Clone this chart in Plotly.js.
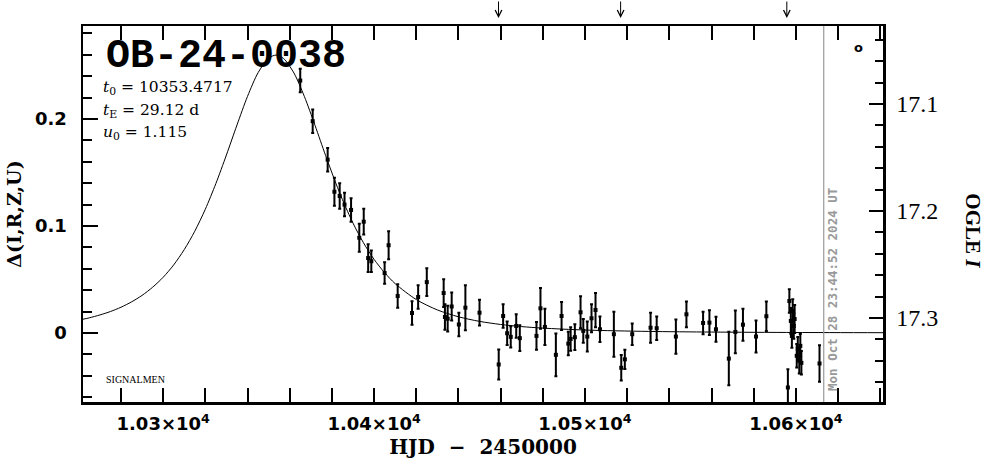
<!DOCTYPE html>
<html>
<head>
<meta charset="utf-8">
<script src="https://cdn.plot.ly/plotly-3.0.1.min.js"></script>
<style>html,body{margin:0;padding:0;background:#fff;}#chart{width:986px;height:459px;}</style>
</head>
<body>
<div id="chart"></div>
<script>
// Observations: HJD - 2450000, magnitude change, error
const obsHJD = [10365.0,10370.9,10378.0,10381.2,10383.7,10386.0,10389.1,10393.0,10395.1,10397.2,
  10398.7,10405.0,10406.9,10411.2,10418.0,10420.9,10425.0,10433.0,10433.6,10434.9,
  10436.8,10440.2,10443.3,10450.0,10459.1,10461.2,10463.1,10464.8,10467.4,10469.1,
  10477.0,10478.9,10481.0,10486.2,10488.9,10492.1,10493.2,10495.2,10497.9,10499.2,
  10501.1,10503.1,10505.0,10507.1,10513.7,10517.2,10518.9,10522.4,10531.1,10534.0,
  10543.1,10548.1,10556.0,10559.0,10562.1,10568.2,10571.3,10574.9,10581.1,10586.0,
  10596.2,10596.9,10597.6,10598.1,10598.5,10599.0,10599.4,10600.4,10600.9,10601.6,
  10602.1,10602.6,10611.2];
const obsDelta = [0.236,0.198,0.162,0.132,0.128,0.120,0.115,0.089,0.104,0.070,
  0.067,0.056,0.082,0.0345,0.0186,0.0336,0.0475,0.0373,0.0149,0.0133,
  0.0247,0.0079,0.0236,0.0189,-0.0295,0.0158,-0.0003,-0.0037,0.0065,-0.0049,
  -0.0028,0.023,0.0056,-0.0205,0.0158,-0.010,-0.0056,-0.004,0.0193,0.0019,
  -0.0034,0.0137,0.0214,0.0034,-0.0012,-0.0326,-0.0247,-0.0012,0.0049,0.0044,
  -0.0034,0.0174,0.0093,0.0096,0.0034,-0.024,0.0009,0.0077,-0.0034,0.0156,
  -0.051,0.0298,0.0112,-0.0028,0.0205,0.0065,0.013,-0.0214,-0.0149,-0.026,
  -0.0121,-0.028,-0.0286];
const obsErr = [0.011,0.011,0.011,0.013,0.012,0.011,0.011,0.013,0.012,0.013,
  0.010,0.010,0.013,0.011,0.011,0.011,0.013,0.013,0.012,0.012,
  0.013,0.011,0.021,0.012,0.014,0.011,0.011,0.010,0.011,0.012,
  0.013,0.019,0.017,0.020,0.013,0.011,0.011,0.012,0.015,0.011,
  0.014,0.013,0.016,0.012,0.021,0.012,0.009,0.010,0.014,0.011,
  0.016,0.012,0.0105,0.0115,0.0117,0.025,0.020,0.015,0.015,0.0137,
  0.017,0.011,0.012,0.011,0.011,0.012,0.013,0.011,0.011,0.012,
  0.011,0.011,0.017];

// Model curve
const modelHJD = [10262,10265,10270,10275,10280,10285,10290,10295,10300,10305,10310,10315,10320,10325,
  10330,10335,10340,10345,10350,10353.5,10357,10362,10367,10372,10377,10382,10385,10390,10395,
  10400,10405,10410,10420,10430,10440,10450,10460,10470,10480,10500,10530,10560,10600,10641.3];
const modelDelta = [0.0128,0.0141,0.0168,0.0200,0.0240,0.0290,0.0351,0.0427,0.0520,0.0636,0.0779,0.0951,0.1157,0.1397,
  0.1664,0.1944,0.2212,0.2433,0.2569,0.2598,0.2568,0.2431,0.2209,0.1941,0.1660,0.1394,0.1247,0.1027,0.0842,
  0.0688,0.0563,0.0461,0.0312,0.0215,0.0151,0.0108,0.0079,0.0059,0.0045,0.0027,0.0014,0.0008,0.0004,0.0002];

// Axis ticks and labels
const xTickVals = [10300,10400,10500,10600];
const xTickText = ['1.03×10<sup>4</sup>','1.04×10<sup>4</sup>','1.05×10<sup>4</sup>','1.06×10<sup>4</sup>'];
const xRange = [10262,10641.3];
const yRange = [-0.0646,0.2870];
const magRange = [17.3786,17.027];

// Markers of dates
const arrowHJD = [10459.0,10516.9,10595.7];
const nowHJD = 10613.2;
const nowLabel = 'Mon Oct 28 23:44:52 2024 UT';

const eventName = 'OB-24-0038';
const paramLines = ['<i>t</i><sub>0</sub> = 10353.4717','<i>t</i><sub>E</sub> = 29.12 d','<i>u</i><sub>0</sub> = 1.115'];

const traces = [
  {x: modelHJD, y: modelDelta, mode:'lines', line:{color:'black', width:1, shape:'spline', smoothing:0.8},
   showlegend:false, hoverinfo:'skip'},
  {x: obsHJD, y: obsDelta, mode:'markers', marker:{color:'black', size:4, symbol:'square'},
   error_y:{type:'data', array: obsErr, visible:true, color:'black', thickness:2, width:1.5},
   showlegend:false},
  {x:[null], y:[null], yaxis:'y2', mode:'markers', showlegend:false, hoverinfo:'skip'}
];

const annotations = [
  {xref:'paper', yref:'paper', x:0.026, y:0.920, xanchor:'left', yanchor:'middle', showarrow:false,
   text: eventName, font:{family:'Liberation Mono', size:40, weight:'bold', color:'black'}},
  {xref:'paper', yref:'paper', x:0.026, y:0.060, xanchor:'left', yanchor:'middle', showarrow:false,
   text:'SIGNALMEN', font:{family:'Liberation Serif', size:10, color:'black'}},
  {xref:'paper', yref:'paper', x:0.969, y:0.944, xanchor:'center', yanchor:'middle', showarrow:false,
   text:'o', font:{family:'DejaVu Sans', size:13, weight:'bold', color:'black'}},
  {xref:'paper', yref:'paper', x:1.112, y:0.455, xanchor:'center', yanchor:'middle', showarrow:false, textangle:90,
   text:'OGLE <i>I</i>', font:{family:'Liberation Serif', size:21, weight:'bold', color:'black'}},
  {xref:'x', yref:'paper', x:nowHJD, y:0.300, xanchor:'center', yanchor:'middle', xshift:8, showarrow:false, textangle:-90,
   text: nowLabel, font:{family:'DejaVu Sans Mono', size:12.5, weight:'bold', color:'#999999'}}
];
const paramY = [0.835,0.7735,0.715];
paramLines.forEach((t,i)=>annotations.push({xref:'paper', yref:'paper', x:0.0225, y:paramY[i], xanchor:'left', yanchor:'middle',
  showarrow:false, text:t, font:{family:'DejaVu Serif', size:15.5, color:'black'}}));
arrowHJD.forEach(h=>annotations.push({xref:'x', yref:'paper', x:h, y:1.021, ax:0, ay:-19, text:'', showarrow:true,
  arrowhead:5, arrowsize:1.3, arrowwidth:1, arrowcolor:'black'}));

const layout = {
  width:986, height:459,
  margin:{l:83, r:103, t:26, b:57},
  paper_bgcolor:'white', plot_bgcolor:'white',
  showlegend:false,
  xaxis:{range:xRange, showgrid:false, zeroline:false, showline:true, linecolor:'black', linewidth:2.5,
    mirror:'allticks', ticks:'inside', ticklen:14, tickwidth:2, tickcolor:'black',
    tickvals:xTickVals, ticktext:xTickText, ticklabelstandoff:4,
    minor:{dtick:20, tick0:10300, ticks:'inside', ticklen:7, tickwidth:2, tickcolor:'black', showgrid:false},
    tickfont:{family:'DejaVu Sans', size:18, weight:'bold', color:'black'},
    title:{text:'HJD\u00A0\u00A0−\u00A0\u00A02450000', standoff:8,
      font:{family:'DejaVu Serif', size:20, weight:'bold', color:'black'}}},
  yaxis:{range:yRange, showgrid:false, zeroline:false, showline:true, linecolor:'black', linewidth:2.5,
    ticks:'inside', ticklen:15, tickwidth:2, tickcolor:'black', dtick:0.1, tick0:0, ticklabelstandoff:10,
    minor:{dtick:0.02, ticks:'inside', ticklen:9, tickwidth:2, tickcolor:'black', showgrid:false},
    tickfont:{family:'DejaVu Sans', size:18, weight:'bold', color:'black'},
    title:{text:'Δ(I,R,Z,U)', standoff:9, font:{family:'DejaVu Serif', size:19, weight:'bold', color:'black'}}},
  yaxis2:{overlaying:'y', side:'right', range:magRange, showgrid:false, zeroline:false, showline:true,
    linecolor:'black', linewidth:2.5, ticks:'inside', ticklen:14, tickwidth:2, tickcolor:'black',
    dtick:0.1, tick0:17, ticklabelstandoff:6,
    minor:{dtick:0.02, ticks:'inside', ticklen:8, tickwidth:2, tickcolor:'black', showgrid:false},
    tickfont:{family:'Liberation Serif', size:24, color:'black'}},
  shapes:[{type:'line', xref:'x', yref:'paper', x0:nowHJD, x1:nowHJD, y0:0, y1:1,
    line:{color:'#999999', width:1.2}}],
  annotations: annotations
};

Plotly.newPlot('chart', traces, layout, {displayModeBar:false, staticPlot:true});
</script>
</body>
</html>
